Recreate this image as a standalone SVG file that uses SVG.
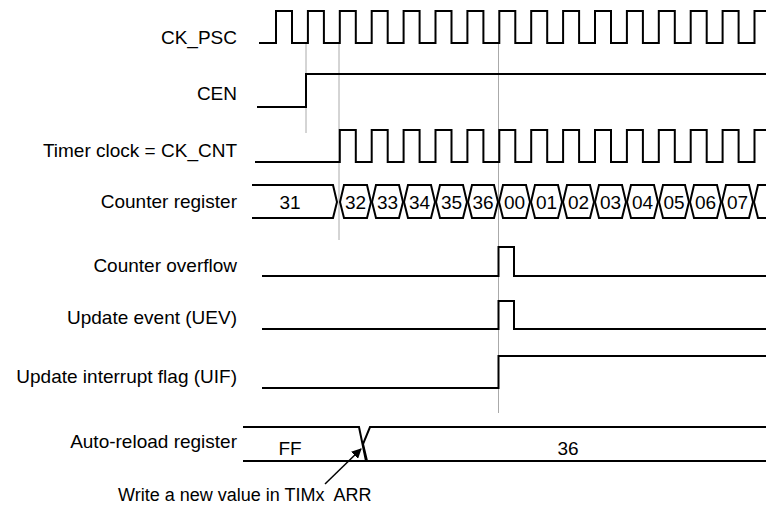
<svg xmlns="http://www.w3.org/2000/svg" width="766" height="510" viewBox="0 0 766 510">
<style>
text{font-family:"Liberation Sans",Arial,sans-serif;fill:#000}
.l{font-size:19px;text-anchor:end}
.v{font-size:19px;text-anchor:middle}
.s{fill:none;stroke:#000;stroke-width:2}
.g{stroke:#aaa;stroke-width:1}
</style>
<defs><marker id="ah" markerWidth="10" markerHeight="10" refX="9" refY="5" orient="auto" markerUnits="userSpaceOnUse"><path d="M0,0 L10,5 L0,10 z"/></marker></defs>
<g id="guides">
<line class="g" x1="306" y1="43" x2="306" y2="133"/>
<line class="g" x1="339" y1="43" x2="339" y2="240"/>
<line class="g" x1="498.5" y1="43" x2="498.5" y2="413"/>
</g>
<g id="labels">
<text class="l" x="237" y="44">CK_PSC</text>
<text class="l" x="237" y="100">CEN</text>
<text class="l" x="237" y="157">Timer clock = CK_CNT</text>
<text class="l" x="237" y="208">Counter register</text>
<text class="l" x="237" y="272">Counter overflow</text>
<text class="l" x="237" y="324">Update event (UEV)</text>
<text class="l" x="237" y="383">Update interrupt flag (UIF)</text>
<text class="l" x="237" y="448">Auto-reload register</text>
<text x="118" y="501" style="font-size:18px;white-space:pre" xml:space="preserve">Write a new value in TIMx  ARR</text>
</g>
<g id="ck_psc"><path class="s" d="M259,43 H276 V11 H292 V43 H307.9 V11 H323.9 V43 H339.8 V11 H355.8 V43 H371.7 V11 H387.7 V43 H403.6 V11 H419.6 V43 H435.5 V11 H451.5 V43 H467.4 V11 H483.4 V43 H499.3 V11 H515.3 V43 H531.2 V11 H547.2 V43 H563.1 V11 H579.1 V43 H595 V11 H611 V43 H626.9 V11 H642.9 V43 H658.8 V11 H674.8 V43 H690.7 V11 H706.7 V43 H722.6 V11 H738.6 V43 H754.5 V11 H766"/></g>
<g id="cen"><path class="s" d="M257,107 H306 V74 H766"/></g>
<g id="ck_cnt"><path class="s" d="M255,162 H339.8 V130 H355.8 V162 H371.7 V130 H387.7 V162 H403.6 V130 H419.6 V162 H435.5 V130 H451.5 V162 H467.4 V130 H483.4 V162 H499.3 V130 H515.3 V162 H531.2 V130 H547.2 V162 H563.1 V130 H579.1 V162 H595 V130 H611 V162 H626.9 V130 H642.9 V162 H658.8 V130 H674.8 V162 H690.7 V130 H706.7 V162 H722.6 V130 H738.6 V162 H754.5 V130 H766"/></g>
<g id="counter">
<path class="s" d="M252,185 H333 L337,202 L333,218 H252"/>
<text class="v" x="290" y="209">31</text>
<path class="s" d="M340,202 L344,185 H367 L371,202 L367,218 H344 Z"/>
<path class="s" d="M372,202 L376,185 H399 L403,202 L399,218 H376 Z"/>
<path class="s" d="M404,202 L408,185 H431 L435,202 L431,218 H408 Z"/>
<path class="s" d="M436,202 L440,185 H463 L467,202 L463,218 H440 Z"/>
<path class="s" d="M468,202 L472,185 H494 L498,202 L494,218 H472 Z"/>
<path class="s" d="M499,202 L503,185 H526 L530,202 L526,218 H503 Z"/>
<path class="s" d="M531,202 L535,185 H558 L562,202 L558,218 H535 Z"/>
<path class="s" d="M563,202 L567,185 H590 L594,202 L590,218 H567 Z"/>
<path class="s" d="M595,202 L599,185 H622 L626,202 L622,218 H599 Z"/>
<path class="s" d="M627,202 L631,185 H654 L658,202 L654,218 H631 Z"/>
<path class="s" d="M659,202 L663,185 H685 L689,202 L685,218 H663 Z"/>
<path class="s" d="M690,202 L694,185 H717 L721,202 L717,218 H694 Z"/>
<path class="s" d="M722,202 L726,185 H749 L753,202 L749,218 H726 Z"/>
<path class="s" d="M766,185 H758 L754,202 L758,218 H766"/>
<text class="v" x="355.5" y="209">32</text>
<text class="v" x="387.5" y="209">33</text>
<text class="v" x="419.5" y="209">34</text>
<text class="v" x="451.5" y="209">35</text>
<text class="v" x="483" y="209">36</text>
<text class="v" x="514.5" y="209">00</text>
<text class="v" x="546.5" y="209">01</text>
<text class="v" x="578.5" y="209">02</text>
<text class="v" x="610.5" y="209">03</text>
<text class="v" x="642.5" y="209">04</text>
<text class="v" x="674" y="209">05</text>
<text class="v" x="705.5" y="209">06</text>
<text class="v" x="737.5" y="209">07</text>
</g>
<g id="overflow"><path class="s" d="M262,276 H498.5 V247 H514 V276 H766"/></g>
<g id="uev"><path class="s" d="M262,329 H498.5 V301 H514 V329 H766"/></g>
<g id="uif"><path class="s" d="M262,388 H498.5 V356 H766"/></g>
<g id="arr">
<path class="s" d="M243,427 H359 L366,461 H243"/>
<path class="s" d="M766,427 H370 L363,444 L367,461 H766"/>
<text class="v" x="290" y="455">FF</text>
<text class="v" x="568" y="455">36</text>
</g>
<g id="connectors"><line x1="325" y1="484" x2="361" y2="449" stroke="#000" stroke-width="1.5" marker-end="url(#ah)"/></g>
</svg>
